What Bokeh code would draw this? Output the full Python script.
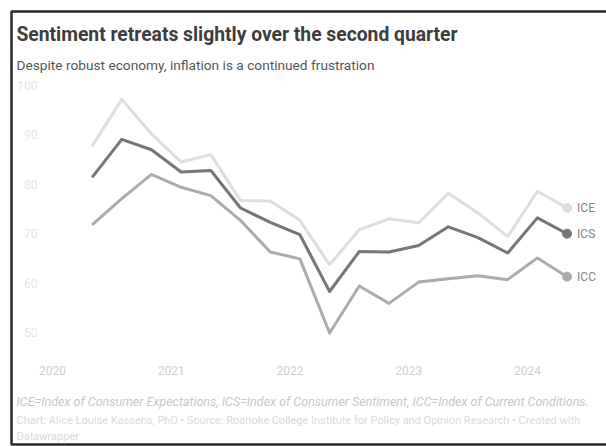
from bokeh.plotting import figure
from bokeh.models import Range1d, Label, BoxAnnotation, ColumnDataSource
from bokeh.core.properties import value
from bokeh.embed import file_html
from bokeh.resources import INLINE

# ---- data ----
periods = ["2020-05", "2020-08", "2020-11", "2021-02", "2021-05", "2021-08", "2021-11",
           "2022-02", "2022-05", "2022-08", "2022-11", "2023-02", "2023-05", "2023-08",
           "2023-11", "2024-02", "2024-05"]
ice = [87.7, 97.2, 90.2, 84.5, 86.0, 76.7, 76.6, 72.7, 63.7, 70.8, 73.0, 72.2, 78.2, 74.2, 69.4, 78.6, 75.2]
ics = [81.4, 89.1, 87.0, 82.5, 82.8, 75.2, 72.3, 69.8, 58.3, 66.4, 66.3, 67.6, 71.4, 69.2, 66.1, 73.2, 70.0]
icc = [71.8, 77.1, 82.0, 79.4, 77.7, 72.7, 66.3, 64.9, 49.9, 59.4, 55.9, 60.2, 60.9, 61.5, 60.7, 65.1, 61.3]
series_names = ["ICE", "ICS", "ICC"]
year_ticks = [2020, 2021, 2022, 2023, 2024]
year_labels = ["2020", "2021", "2022", "2023", "2024"]
y_ticks = [50, 60, 70, 80, 90, 100]
y_labels = ["50", "60", "70", "80", "90", "100"]

title_text = "Sentiment retreats slightly over the second quarter"
subtitle_text = "Despite robust economy, inflation is a continued frustration"
note_text = "ICE=Index of Consumer Expectations, ICS=Index of Consumer Sentiment, ICC=Index of Current Conditions."
credit_1 = "Chart: Alice Louise Kassens, PhD \u2022 Source: Roanoke College Institute for Policy and Opinion Research \u2022 Created with"
credit_2 = "Datawrapper"


def to_year(s):
    y, m = s.split("-")
    return int(y) + (int(m) - 1) / 12.0


x = [to_year(s) for s in periods]

# ---- layout (pixels) ----
W, H = 606, 446
X2020_PX, PX_PER_YEAR = 52.0, 118.75
Y100_PX, PX_PER_UNIT = 85.0, 4.94


def dx(px):
    return 2020 + (px - X2020_PX) / PX_PER_YEAR


def dy(py):
    return 100 - (py - Y100_PX) / PX_PER_UNIT


FONT = "Roboto"
colors = {"ICE": "#dedede", "ICS": "#767676", "ICC": "#ababab"}
vals = {"ICE": ice, "ICS": ics, "ICC": icc}

p = figure(width=W, height=H, output_backend="svg", toolbar_location=None,
           x_range=Range1d(dx(0), dx(W)), y_range=Range1d(dy(H), dy(0)),
           x_axis_location=None, y_axis_location=None, min_border=0)
p.outline_line_color = None
p.background_fill_color = "white"
p.border_fill_color = "white"
p.xgrid.visible = False
p.ygrid.visible = False

for name in series_names:
    p.line(x, vals[name], line_color=colors[name], line_width=3, line_join="round")

end_src = ColumnDataSource(dict(x=[x[-1]] * 3, y=[vals[n][-1] for n in series_names],
                                c=[colors[n] for n in series_names], t=series_names))
p.scatter("x", "y", source=end_src, size=9, fill_color="c", line_color="c")
p.text("x", "y", text="t", source=end_src, x_offset=10, text_baseline="middle",
       text_color="#858585", text_font_size="12px", text_font=value(FONT))

# tick labels
ysrc = ColumnDataSource(dict(x=[dx(37)] * len(y_ticks), y=y_ticks, t=y_labels))
p.text("x", "y", text="t", source=ysrc, text_align="right", text_baseline="middle",
       text_color="#e6e6e6", text_font_size="12px", text_font=value(FONT))
xsrc = ColumnDataSource(dict(x=year_ticks, y=[dy(370)] * len(year_ticks), t=year_labels))
p.text("x", "y", text="t", source=xsrc, text_align="center", text_baseline="middle",
       text_color="#cfcfcf", text_font_size="12px", text_font=value(FONT))


# texts (screen units, frame == canvas, y measured from bottom)
def sy(py):
    return H - py


p.add_layout(Label(x=16, y=sy(34), x_units="screen", y_units="screen", text=title_text,
                   text_font=FONT, text_font_style="bold", text_font_size="19.3px",
                   text_color="#3d3d3d", text_baseline="alphabetic"))
p.add_layout(Label(x=16, y=sy(64), x_units="screen", y_units="screen", text=subtitle_text,
                   text_font=FONT, text_font_size="13.7px",
                   text_color="#555555", text_baseline="alphabetic"))
p.add_layout(Label(x=16, y=sy(401), x_units="screen", y_units="screen", text=note_text,
                   text_font=FONT, text_font_style="italic", text_font_size="12.5px",
                   text_color="#c8c8c8", text_baseline="middle"))
p.add_layout(Label(x=16, y=sy(420), x_units="screen", y_units="screen", text=credit_1,
                   text_font=FONT, text_font_size="11px",
                   text_color="#dadada", text_baseline="middle"))
p.add_layout(Label(x=16, y=sy(436), x_units="screen", y_units="screen", text=credit_2,
                   text_font=FONT, text_font_size="11px",
                   text_color="#dadada", text_baseline="middle"))

p.add_layout(BoxAnnotation(left=11, right=W + 50, top=sy(11), bottom=sy(444),
                           left_units="screen", right_units="screen",
                           top_units="screen", bottom_units="screen",
                           fill_alpha=0, line_color="#2a2a2a", line_alpha=1.0,
                           line_width=2.5))

open("out.html", "w").write(file_html(p, INLINE))
